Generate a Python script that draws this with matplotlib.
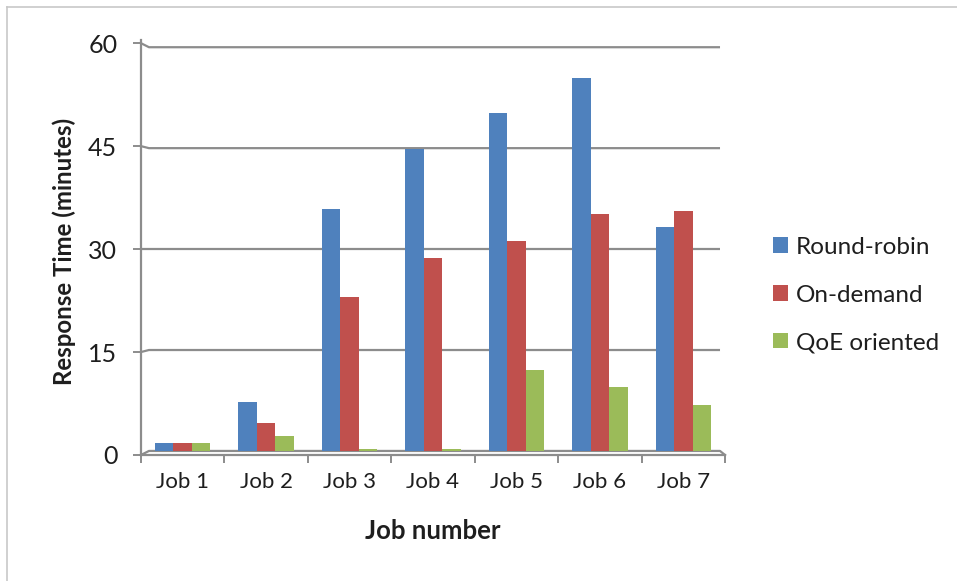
import matplotlib
matplotlib.use("Agg")
import matplotlib.pyplot as plt
import numpy as np
from matplotlib.lines import Line2D
from matplotlib.patches import Patch

plt.rcParams["font.family"] = ["Lato", "DejaVu Sans"]

jobs = ["Job 1", "Job 2", "Job 3", "Job 4", "Job 5", "Job 6", "Job 7"]
round_robin = [1.2, 7.3, 36.0, 44.8, 50.2, 55.5, 33.3]
on_demand = [1.2, 4.2, 22.9, 28.7, 31.2, 35.2, 35.6]
qoe_oriented = [1.2, 2.2, 0.3, 0.3, 12.0, 9.5, 6.8]
series_names = ["Round-robin", "On-demand", "QoE oriented"]
y_ticks = [0, 15, 30, 45, 60]

COLORS = ["#4F81BD", "#C0504D", "#9BBB59"]
GRID = "#8c8c8c"
TEXT = "#1e1e1e"
BAR_W = 0.222
DEPTH_X = 0.096  # horizontal shift of the back wall


def front(v):
    # the axis sits in front of the back wall, slightly larger scale
    return v * 1.02 - 0.6


fig = plt.figure(figsize=(9.57, 5.81), dpi=100)
ax = fig.add_axes([0.1473, 0.2169, 0.6103, 0.7134])

x = np.arange(len(jobs))
x0, x1 = -0.5, len(jobs) - 0.5

# back wall gridlines with the small perspective step at the axis
for v in y_ticks[1:]:
    ax.plot([x0, x0 + DEPTH_X, x1 - 0.06], [front(v), v, v],
            color=GRID, lw=1.6, solid_capstyle="butt", zorder=1, clip_on=False)
# floor outline
ax.plot([x0, x0 + DEPTH_X, x1 - 0.06, x1], [front(0), 0, 0, front(0)],
        color=GRID, lw=1.6, zorder=1, clip_on=False)

for i, (vals, col) in enumerate(zip([round_robin, on_demand, qoe_oriented], COLORS)):
    ax.bar(x + (i - 1) * BAR_W, vals, width=BAR_W, color=col,
           edgecolor="none", zorder=3)

ax.set_xlim(x0, x1)
ax.set_ylim(front(0), 61)

for s in ["top", "right"]:
    ax.spines[s].set_visible(False)
for s in ["left", "bottom"]:
    ax.spines[s].set_color(GRID)
    ax.spines[s].set_linewidth(1.6)

ax.set_yticks([front(v) for v in y_ticks], [str(v) for v in y_ticks])
ax.set_xticks(x, jobs)
ax.set_xticks(np.arange(len(jobs) + 1) - 0.5, minor=True)
ax.tick_params(axis="y", length=6, width=1.4, color=GRID, pad=11,
               labelsize=18, labelcolor=TEXT)
ax.tick_params(axis="x", which="major", length=0, pad=12,
               labelsize=16, labelcolor=TEXT)
ax.tick_params(axis="x", which="minor", length=6, width=1.4, color=GRID)

ax.set_ylabel("Response Time (minutes)", fontsize=17.3, fontweight="bold",
              color=TEXT)
ax.yaxis.set_label_coords(-0.112, 0.49)
ax.set_xlabel("Job number", fontsize=18.5, fontweight="bold", color=TEXT)
ax.xaxis.set_label_coords(0.5, -0.155)

handles = [Patch(facecolor=c, edgecolor="none") for c in COLORS]
fig.legend(handles, series_names, loc="center left",
           bbox_to_anchor=(0.795, 1 - 295 / 581), frameon=False,
           fontsize=17.5, handlelength=0.6, handleheight=0.6,
           handletextpad=0.35, labelspacing=1.1, borderpad=0,
           labelcolor=TEXT)

# outer frame (top and left edges only)
fig.add_artist(Line2D([7 / 957, 1], [1 - 7 / 581, 1 - 7 / 581],
                      transform=fig.transFigure, color="#c8c8c8", lw=1.2))
fig.add_artist(Line2D([7 / 957, 7 / 957], [0, 1 - 7 / 581],
                      transform=fig.transFigure, color="#c8c8c8", lw=1.2))

fig.savefig("out.png", dpi=100, facecolor="white")
